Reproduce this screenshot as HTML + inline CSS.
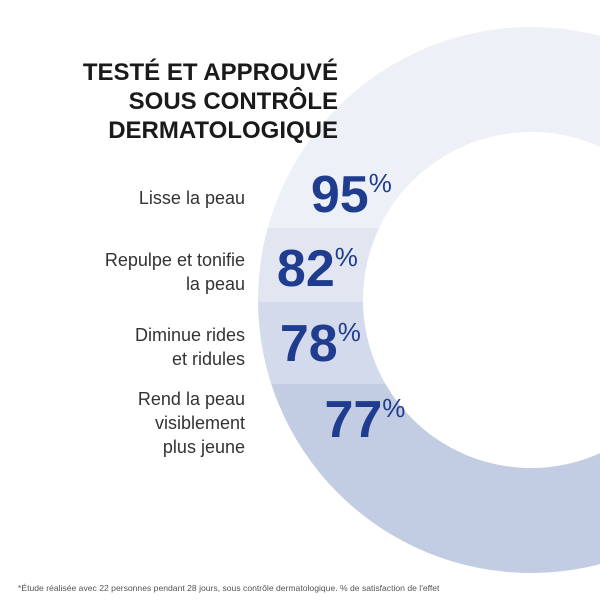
<!DOCTYPE html>
<html><head><meta charset="utf-8"><style>
html,body{margin:0;padding:0;background:#fff}
svg{display:block}
text{font-family:"Liberation Sans",sans-serif}
</style></head><body>
<svg id="chart" width="600" height="600" viewBox="0 0 600 600" xmlns="http://www.w3.org/2000/svg">
<defs>
<mask id="ringMask"><rect width="600" height="600" fill="#fff"/><circle cx="531" cy="300" r="168" fill="#000"/></mask>
</defs>
<g id="ring" mask="url(#ringMask)"></g>
<g font-weight="bold" font-size="24" fill="#1a1a1a" text-anchor="end">
<text x="338" y="80">TESTÉ ET APPROUVÉ</text>
<text x="338" y="109">SOUS CONTRÔLE</text>
<text x="338" y="138">DERMATOLOGIQUE</text>
</g>
<g id="rows"></g>
<text x="18" y="591" font-size="8.6" fill="#555">*Étude réalisée avec 22 personnes pendant 28 jours, sous contrôle dermatologique. % de satisfaction de l'effet</text>
</svg>
<script>
const labels = [["Lisse la peau"],["Repulpe et tonifie","la peau"],["Diminue rides","et ridules"],["Rend la peau","visiblement","plus jeune"]];
const values = [95, 82, 78, 77];
const bandColors = ["#edf0f7","#e1e6f1","#d3daeb","#c2cce3"];
const cx=531, cy=300, R=273, r=168;
const bandTops=[0,228,302,384], bandBottoms=[228,302,384,600];
const numY=[212,286,361,437];
const NS="http://www.w3.org/2000/svg";
const ring=document.getElementById('ring'), rows=document.getElementById('rows');
for(let i=0;i<values.length;i++){
  const cp=document.createElementNS(NS,'clipPath'); cp.setAttribute('id','band'+i);
  const rr=document.createElementNS(NS,'rect'); rr.setAttribute('x',0); rr.setAttribute('y',bandTops[i]); rr.setAttribute('width',600); rr.setAttribute('height',bandBottoms[i]-bandTops[i]);
  cp.appendChild(rr); document.querySelector('defs').appendChild(cp);
  const c=document.createElementNS(NS,'circle');
  
  
  c.setAttribute('cx',cx);c.setAttribute('cy',cy);c.setAttribute('r',R);c.setAttribute('fill',bandColors[i]);c.setAttribute('clip-path','url(#band'+i+')');
  ring.appendChild(c);
  const mid=(bandTops[i]+bandBottoms[i])/2;
  const ny=numY[i]-17;
  const dy=Math.abs(ny-cy);
  const edge=cx-Math.sqrt(Math.max(0,r*r-dy*dy));
  const t=document.createElementNS(NS,'text');
  
  
  t.setAttribute('x',edge-8);t.setAttribute('y',numY[i]);t.setAttribute('text-anchor','end');t.setAttribute('fill','#1f3c8e');
  const n=document.createElementNS(NS,'tspan'); n.setAttribute('font-size','52');n.setAttribute('font-weight','bold');n.textContent=values[i];
  const p=document.createElementNS(NS,'tspan'); p.setAttribute('font-size','26');p.setAttribute('dy','-20');p.textContent='%';
  t.appendChild(n);t.appendChild(p);rows.appendChild(t);
  const L=labels[i];
  const lh=24, cyText=numY[i]-8-(L.length-1)*lh/2;
  L.forEach((s,j)=>{
    const lt=document.createElementNS(NS,'text');
    
    
    lt.setAttribute('x',245);lt.setAttribute('y',cyText+j*lh);lt.setAttribute('text-anchor','end');lt.setAttribute('font-size','18');lt.setAttribute('fill','#333');
    lt.textContent=s;rows.appendChild(lt);
  });
}
</script>
</body></html>
